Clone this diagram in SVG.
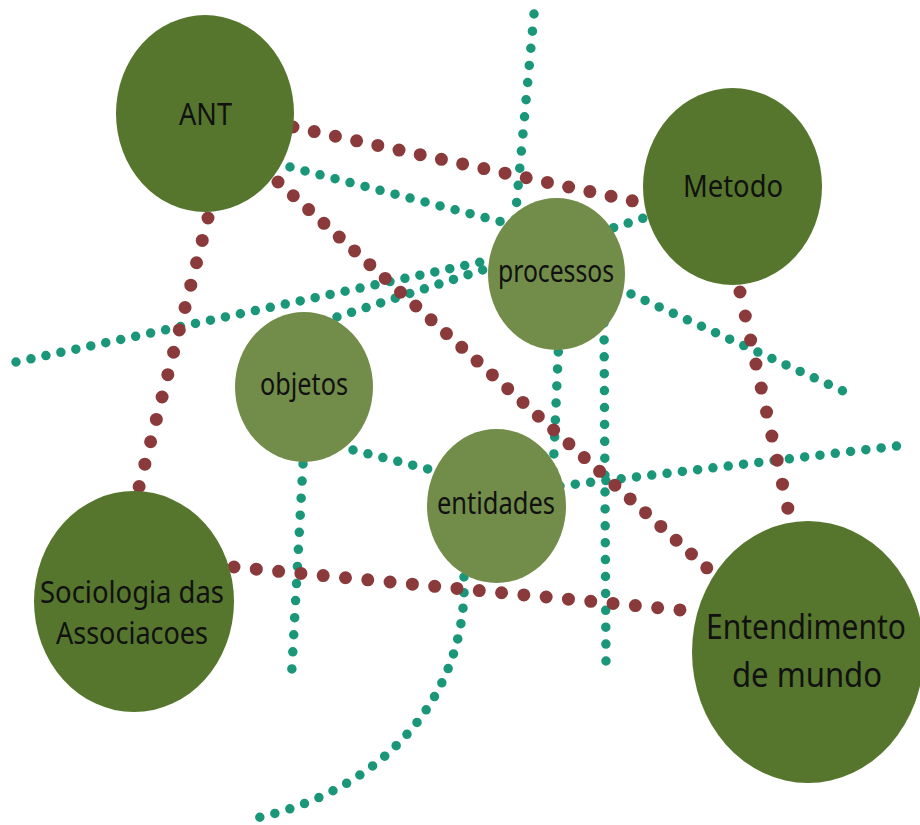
<svg xmlns="http://www.w3.org/2000/svg" width="920" height="825" viewBox="0 0 920 825">
<style>
.t{fill:none;stroke:#1A9679;stroke-width:9.5;stroke-linecap:round}
.r{fill:none;stroke:#8A3A3A;stroke-width:13;stroke-linecap:round}
.big{fill:#55762C}
.small{fill:#718D49}
text{font-family:"Noto Sans","Open Sans","DejaVu Sans",sans-serif;fill:#111;text-anchor:middle}
</style>
<rect width="920" height="825" fill="#fff"/>
<g id="connectors">
<path class="t" d="M534,14 L515,220" stroke-dasharray="0 17.2"/>
<path class="t" d="M559,335 L553,475" stroke-dasharray="0 17"/>
<path class="t" d="M464,577 C468,690 390,790 252,819" stroke-dasharray="0 15.6"/>
<path class="t" d="M604,323 L606,662" stroke-dasharray="0 16.9"/>
<path class="t" d="M303,464 L291,685" stroke-dasharray="0 17.1"/>
<path class="t" d="M16,362 L495,259" stroke-dasharray="0 15.3"/>
<path class="t" d="M337,317 L650,216" stroke-dasharray="0 15.3"/>
<path class="t" d="M290,167 L510,224" stroke-dasharray="0 15.5"/>
<path class="t" d="M631,294 L843,391" stroke-dasharray="0 15.5"/>
<path class="t" d="M353,450 L428,469" stroke-dasharray="0 15.4"/>
<path class="t" d="M560,486 L897,446" stroke-dasharray="0 15.4"/>
<path class="r" d="M293,127 L633,201" stroke-dasharray="0 21.7"/>
<path class="r" d="M208,218 L139,487" stroke-dasharray="0 23.1"/>
<path class="r" d="M278,182 L707,568" stroke-dasharray="0 20.6"/>
<path class="r" d="M740,292 L788,509" stroke-dasharray="0 24.6"/>
<path class="r" d="M234,567 L681,610" stroke-dasharray="0 22.4"/>
</g>
<g id="ant"><ellipse class="big" cx="205" cy="113.5" rx="89" ry="98.5"/><text x="205.5" y="125" font-size="31" textLength="53" lengthAdjust="spacingAndGlyphs">ANT</text></g>
<g id="metodo"><ellipse class="big" cx="732.5" cy="186.5" rx="89.5" ry="98.5"/><text x="733" y="197" font-size="30" textLength="100" lengthAdjust="spacingAndGlyphs">Metodo</text></g>
<g id="processos"><ellipse class="small" cx="556.5" cy="274" rx="68.5" ry="76"/><text x="556" y="282" font-size="30" textLength="116" lengthAdjust="spacingAndGlyphs">processos</text></g>
<g id="objetos"><ellipse class="small" cx="304" cy="387" rx="69" ry="75"/><text x="304" y="395" font-size="30" textLength="88" lengthAdjust="spacingAndGlyphs">objetos</text></g>
<g id="entidades"><ellipse class="small" cx="496.5" cy="506" rx="69.5" ry="77"/><text x="496" y="514" font-size="30" textLength="118" lengthAdjust="spacingAndGlyphs">entidades</text></g>
<g id="sociologia"><ellipse class="big" cx="134" cy="601.5" rx="100" ry="110.5"/><text x="132" y="603" font-size="31" textLength="184" lengthAdjust="spacingAndGlyphs">Sociologia das</text><text x="132" y="644" font-size="31" textLength="152" lengthAdjust="spacingAndGlyphs">Associacoes</text></g>
<g id="entendimento"><ellipse class="big" cx="808" cy="652" rx="116" ry="131"/><text x="806" y="639" font-size="34" textLength="200" lengthAdjust="spacingAndGlyphs">Entendimento</text><text x="807" y="687" font-size="34" textLength="150" lengthAdjust="spacingAndGlyphs">de mundo</text></g>
</svg>
